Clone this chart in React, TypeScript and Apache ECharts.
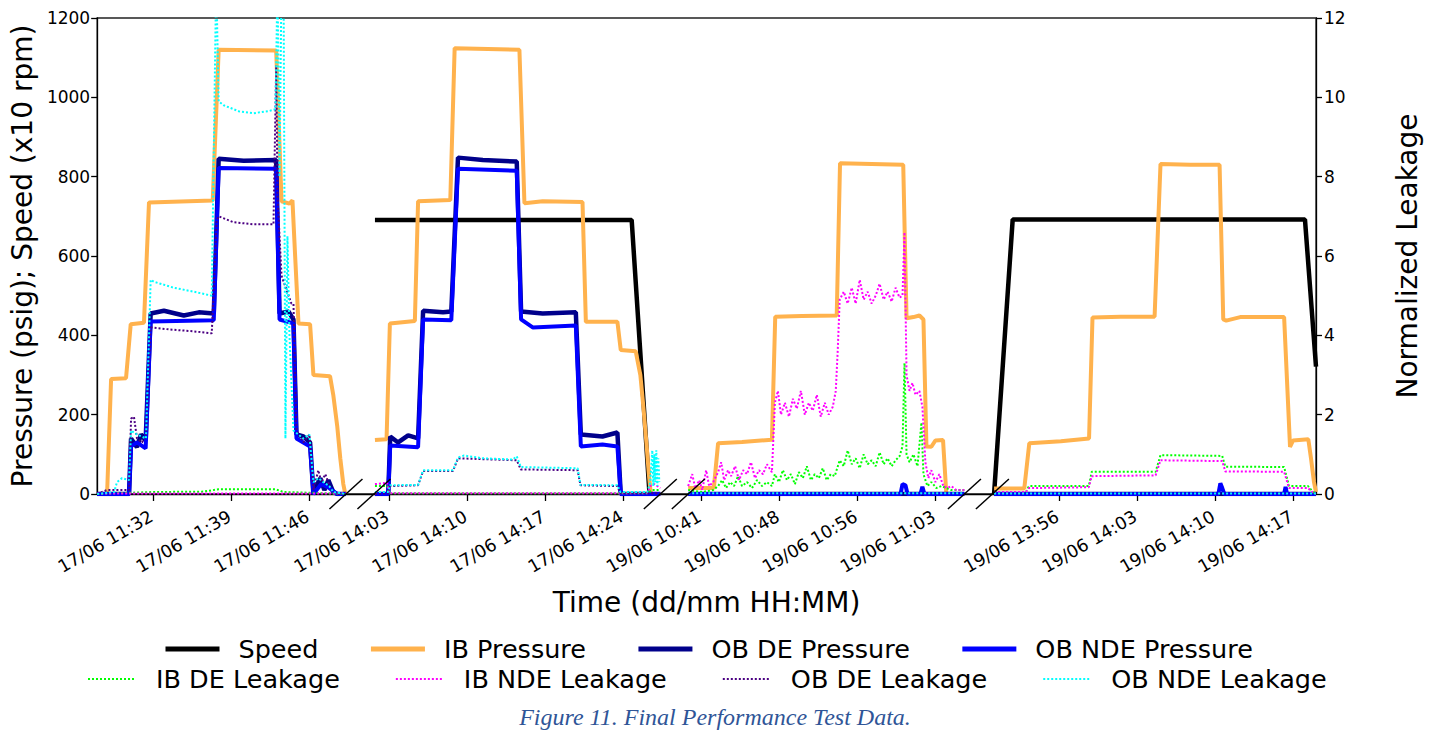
import React, { useEffect, useRef } from 'react';
import * as echarts from 'echarts';

type Pt = [number, number];

// Times are minutes of the day (692 = 11:32). Four recording windows, drawn side by side with broken-axis gaps.
const segments = [
  { t0: 686.97, t1: 709.29, scale: 1 },
  { t0: 841.63, t1: 867.32, scale: 1 },
  { t0: 640.09, t1: 666.04, scale: 7 / 7.333 },
  { t0: 830.01, t1: 859.04, scale: 1 },
];
const GAP = 2.51;

const tickTimes: number[][] = [
  [692, 699, 706],
  [843, 850, 857, 864],
  [641.33, 648.67, 656, 663.33],
  [836, 843, 850, 857],
];
const tickLabels: string[][] = [
  ['17/06 11:32', '17/06 11:39', '17/06 11:46'],
  ['17/06 14:03', '17/06 14:10', '17/06 14:17', '17/06 14:24'],
  ['19/06 10:41', '19/06 10:48', '19/06 10:56', '19/06 11:03'],
  ['19/06 13:56', '19/06 14:03', '19/06 14:10', '19/06 14:17'],
];

// ---- Speed (x10 rpm) ----
const speed: Pt[][] = [
  [],
  [[841.72, 691], [864.75, 691], [866.33, 10], [866.42, 0]],
  [],
  [[830.16, 0], [831.83, 692], [858.05, 692], [859.04, 321]],
];

// ---- IB Pressure (psig) ----
const ibPressure: Pt[][] = [
  [[686.97, 0], [687.86, 0], [688.22, 290], [689.56, 292], [689.98, 428], [691.17, 432], [691.62, 735], [697.34, 740], [697.87, 1120], [703.03, 1118], [703.51, 738], [704.22, 732], [704.49, 740], [704.73, 600], [705.03, 430], [706.07, 428], [706.37, 300], [707.86, 297], [708.15, 250], [708.51, 170], [708.78, 90], [709.05, 25], [709.23, 0]],
  [[841.72, 136], [842.76, 138], [843.06, 430], [845.3, 436], [845.59, 738], [848.48, 741], [848.87, 1124], [854.68, 1120], [855.13, 733], [856.77, 738], [860.34, 736], [860.64, 434], [863.47, 434], [863.77, 363], [865.11, 360], [865.53, 300], [865.8, 220], [866.07, 130], [866.29, 50], [866.45, 5], [866.6, 0], [867.32, 0]],
  [[640.08, 15], [642.49, 15], [642.89, 128], [645.14, 131], [647.95, 137], [648.26, 447], [650.76, 449], [654.04, 450], [654.35, 834], [657.32, 832], [660.29, 830], [660.6, 443], [661.25, 446], [661.81, 450], [662.19, 440], [662.47, 120], [662.93, 119], [663.31, 135], [664.03, 136], [664.34, 0], [666.03, 0]],
  [[830.16, 14], [832.87, 14], [833.32, 128], [836.15, 133], [838.68, 140], [838.99, 445], [841.52, 447], [844.56, 447], [845.09, 832], [847.77, 830], [850.39, 830], [850.72, 440], [850.99, 437], [852.24, 446], [856.18, 446], [856.71, 119], [856.98, 135], [858.35, 138], [858.59, 90], [858.86, 30], [859.04, 5]],
];

// ---- OB DE Pressure (psig) ----
const obDePressure: Pt[][] = [
  [[686.97, 0], [689.83, 0], [690.01, 140], [690.54, 118], [690.9, 150], [691.32, 135], [691.77, 455], [692.96, 462], [694.74, 450], [696.09, 458], [697.43, 455], [697.87, 845], [700.11, 840], [703.03, 842], [703.33, 455], [704.13, 460], [704.58, 440], [704.85, 150], [705.47, 145], [706.07, 130], [706.37, 0], [706.64, 20], [706.99, 40], [707.35, 10], [707.71, 35], [708.15, 5], [708.51, 0], [709.29, 0]],
  [[841.72, 0], [842.91, 0], [843.09, 145], [843.8, 130], [844.7, 148], [845.59, 140], [846.04, 462], [847.83, 458], [848.57, 460], [849.17, 848], [851.4, 842], [854.44, 838], [854.83, 460], [856.77, 455], [859.74, 458], [860.19, 150], [862.13, 145], [863.47, 155], [863.77, 0], [867.32, 0]],
  [[640.08, 0], [666.03, 0]],
  [[830.16, 0], [859.04, 0]],
];

// ---- OB NDE Pressure (psig) ----
const obNdePressure: Pt[][] = [
  [[686.97, 0], [689.83, 0], [690.01, 120], [690.54, 130], [691.32, 115], [691.77, 435], [697.43, 438], [697.87, 822], [703.03, 820], [703.33, 440], [704.58, 430], [704.85, 140], [706.07, 120], [706.37, 0], [707.08, 25], [707.79, 15], [708.51, 0], [709.29, 0]],
  [[841.72, 0], [842.91, 0], [843.09, 122], [845.59, 118], [846.04, 440], [848.57, 438], [849.17, 820], [854.44, 815], [854.83, 440], [855.87, 420], [859.74, 425], [860.19, 120], [862.13, 125], [863.47, 120], [863.77, 0], [867.32, 0]],
  [[640.08, 0], [660.04, 0], [660.22, 25], [660.5, 22], [660.69, 0], [661.91, 0], [662.09, 18], [662.28, 0], [666.03, 0]],
  [[830.16, 0], [850.28, 0], [850.46, 27], [850.63, 15], [850.81, 0], [856.18, 0], [856.31, 18], [856.44, 0], [859.04, 0]],
];

// ---- IB DE Leakage (normalized) ----
const ibDeLeakage: Pt[][] = [
  [[686.97, 0], [688.49, 0.02], [692.06, 0.05], [696.5, 0.06], [697.87, 0.12], [702.97, 0.12], [703.69, 0.05], [706.37, 0.03], [709.29, 0]],
  [[841.72, 0.2], [842.82, 0.2], [843.0, 0.02], [866.16, 0.02], [866.6, 0.1], [867.32, 0.1]],
  [[640.08, 0.1], [641.4, 0.05], [642.43, 0.1], [642.89, 0.2], [643.27, 0.35], [643.64, 0.15], [644.02, 0.3], [644.39, 0.2], [644.77, 0.45], [645.14, 0.2], [645.61, 0.3], [646.08, 0.15], [646.55, 0.35], [647.02, 0.2], [647.48, 0.3], [647.95, 0.2], [648.23, 0.5], [648.61, 0.3], [648.98, 0.6], [649.36, 0.35], [649.73, 0.5], [650.11, 0.25], [650.48, 0.55], [650.86, 0.4], [651.23, 0.7], [651.61, 0.35], [651.98, 0.5], [652.36, 0.4], [652.73, 0.65], [653.1, 0.35], [653.48, 0.5], [653.85, 0.45], [654.32, 0.85], [654.7, 0.7], [655.07, 1.1], [655.45, 0.75], [655.82, 0.9], [656.2, 0.65], [656.57, 1.0], [656.95, 0.75], [657.32, 0.85], [657.7, 0.7], [658.07, 1.05], [658.45, 0.75], [658.82, 0.9], [659.2, 0.7], [659.57, 0.85], [659.94, 0.95], [660.22, 1.2], [660.41, 3.3], [660.6, 1.0], [660.88, 0.8], [661.25, 1.0], [661.63, 0.7], [662.0, 1.8], [662.19, 0.5], [662.56, 0.2], [662.93, 0.3], [663.4, 0.15], [663.87, 0.2], [664.81, 0.1], [666.03, 0.1]],
  [[830.16, 0.05], [833.02, 0.05], [833.29, 0.2], [838.66, 0.2], [838.92, 0.56], [844.65, 0.56], [845.09, 0.98], [850.63, 0.96], [850.9, 0.69], [856.18, 0.68], [856.62, 0.2], [858.32, 0.2], [858.77, 0.05], [859.04, 0]],
];

// ---- IB NDE Leakage (normalized) ----
const ibNdeLeakage: Pt[][] = [
  [[686.97, 0.01], [709.29, 0.01]],
  [[841.72, 0.25], [842.82, 0.28], [843.0, 0.02], [866.16, 0.02], [866.42, 0.2], [866.78, 0.25], [867.32, 0.15]],
  [[640.08, 0.2], [640.46, 0.5], [640.74, 0.15], [641.12, 0.35], [641.4, 0.1], [641.77, 0.6], [642.05, 0.2], [642.43, 0.3], [642.89, 0.55], [643.18, 0.8], [643.46, 0.35], [643.83, 0.6], [644.11, 0.45], [644.49, 0.7], [644.86, 0.35], [645.24, 0.6], [645.61, 0.5], [645.98, 0.8], [646.36, 0.4], [646.73, 0.6], [647.11, 0.5], [647.48, 0.75], [647.95, 0.55], [648.23, 2.3], [648.51, 2.6], [648.8, 2.0], [649.17, 2.3], [649.55, 1.95], [649.92, 2.4], [650.29, 2.15], [650.67, 2.6], [651.04, 2.0], [651.42, 2.3], [651.79, 2.1], [652.17, 2.5], [652.54, 1.95], [652.92, 2.3], [653.29, 2.0], [653.67, 2.2], [653.95, 2.6], [654.13, 3.6], [654.32, 4.9], [654.7, 5.1], [655.07, 4.8], [655.45, 5.2], [655.82, 4.8], [656.2, 5.4], [656.57, 4.9], [656.95, 5.1], [657.32, 4.8], [657.7, 5.0], [658.07, 5.3], [658.45, 4.9], [658.82, 5.1], [659.2, 4.85], [659.57, 5.2], [659.94, 4.95], [660.22, 5.0], [660.41, 6.6], [660.6, 3.0], [660.88, 2.6], [661.16, 2.8], [661.44, 2.5], [661.81, 2.6], [662.09, 2.2], [662.37, 0.8], [662.65, 0.4], [662.93, 0.6], [663.31, 0.3], [663.68, 0.5], [664.06, 0.2], [664.43, 0.15], [664.81, 0.2], [665.28, 0.1], [666.03, 0.1]],
  [[830.16, 0.05], [833.02, 0.05], [833.29, 0.15], [838.66, 0.17], [838.92, 0.45], [844.65, 0.47], [845.09, 0.85], [850.63, 0.83], [850.9, 0.57], [856.18, 0.56], [856.62, 0.15], [858.32, 0.15], [858.77, 0.03], [859.04, 0]],
];

// ---- OB DE Leakage (normalized) ----
const obDeLeakage: Pt[][] = [
  [[686.97, 0], [687.86, 0.1], [689.83, 0.1], [690.01, 1.9], [690.27, 1.95], [690.54, 1.4], [690.99, 1.3], [691.35, 1.5], [691.77, 4.2], [693.4, 4.15], [695.64, 4.1], [697.25, 4.05], [697.69, 6.9], [697.87, 7.0], [699.21, 6.85], [701.0, 6.8], [702.79, 6.8], [703.03, 10.8], [703.15, 7.5], [703.51, 5.5], [704.4, 4.8], [704.58, 4.8], [704.85, 1.6], [705.47, 1.3], [706.01, 1.5], [706.37, 0.1], [706.81, 0.6], [707.08, 0.3], [707.44, 0.5], [707.97, 0.1], [708.51, 0], [709.29, 0]],
  [[841.72, 0], [842.91, 0.02], [843.06, 0.2], [845.59, 0.22], [846.04, 0.58], [848.72, 0.58], [849.17, 0.9], [854.44, 0.85], [854.8, 0.62], [859.9, 0.6], [860.16, 0.22], [863.47, 0.2], [863.74, 0.02], [867.32, 0.02]],
  [[640.08, 0.02], [666.03, 0.02]],
  [[830.16, 0.01], [859.04, 0.01]],
];

// ---- OB NDE Leakage (normalized) ----
const obNdeLeakage: Pt[][] = [
  [[686.97, 0], [688.49, 0.05], [688.75, 0.3], [689.2, 0.4], [689.83, 0.35], [690.01, 1.6], [690.54, 1.5], [691.35, 1.4], [691.77, 5.4], [692.06, 5.35], [693.85, 5.2], [695.64, 5.1], [697.25, 5.0], [697.65, 13], [697.87, 9.9], [698.32, 9.8], [699.66, 9.65], [701.0, 9.6], [702.34, 9.65], [702.97, 9.7], [703.15, 13], [703.33, 8], [703.51, 13], [703.69, 13], [703.86, 1.4], [704.04, 6.5], [704.22, 4], [704.58, 1.6], [705.03, 1.5], [705.47, 1.4], [706.01, 1.5], [706.37, 0.3], [706.81, 0.4], [707.26, 0.3], [707.79, 0.2], [708.15, 0.05], [709.29, 0]],
  [[841.72, 0.05], [842.91, 0.05], [843.06, 0.22], [845.59, 0.23], [846.04, 0.6], [848.72, 0.6], [849.17, 0.92], [849.71, 0.97], [851.4, 0.9], [854.09, 0.87], [854.44, 0.95], [854.8, 0.68], [859.9, 0.65], [860.16, 0.23], [863.47, 0.22], [863.74, 0.05], [866.16, 0.05], [866.42, 0.3], [866.6, 1.1], [866.69, 0.2], [866.78, 1.0], [866.87, 0.3], [866.96, 1.1], [867.05, 0.2], [867.14, 0.9], [867.23, 0.3]],
  [[640.08, 0.02], [666.03, 0.02]],
  [[830.16, 0.01], [859.04, 0.01]],
];

const FONT = 'DejaVu Sans';

const v0s: number[] = [];
const widths: number[] = [];
(() => {
  let acc = 0;
  segments.forEach((s) => {
    v0s.push(acc);
    const w = (s.t1 - s.t0) * s.scale;
    widths.push(w);
    acc += w + GAP;
  });
})();
const xMax = v0s[3] + widths[3];
const toV = (i: number, t: number) => v0s[i] + (t - segments[i].t0) * segments[i].scale;

const build = (segs: Pt[][]) => {
  const out: any[] = [];
  segs.forEach((pts, i) => {
    if (!pts.length) return;
    if (out.length) out.push([v0s[i] - GAP / 2, '-']);
    pts.forEach((p) => out.push([toV(i, p[0]), p[1]]));
  });
  return out;
};

const tickVals: number[] = [];
const tickText: string[] = [];
tickTimes.forEach((arr, i) => arr.forEach((t, j) => { tickVals.push(toV(i, t)); tickText.push(tickLabels[i][j]); }));

export default function App() {
  const ref = useRef<HTMLDivElement>(null);
  useEffect(() => {
    const chart = echarts.init(ref.current!, null, { renderer: 'svg' });
    const solid = (name: string, data: Pt[][], color: string, width: number) => ({
      name, type: 'line', data: build(data), yAxisIndex: 0, symbol: 'none', showSymbol: false,
      connectNulls: false, clip: true, lineStyle: { color, width }, itemStyle: { color },
    });
    const dotted = (name: string, data: Pt[][], color: string) => ({
      name, type: 'line', data: build(data), yAxisIndex: 1, symbol: 'none', showSymbol: false,
      connectNulls: false, clip: true, lineStyle: { color, width: 2, type: 'dotted' }, itemStyle: { color },
    });
    const axisLineStyle = { color: '#000', width: 1.3 };
    const legendText = { fontSize: 25.5, fontFamily: FONT, color: '#000', padding: [0, 0, 0, 14] };
    const option: any = {
      animation: false,
      grid: { left: 93, right: 121, top: 18, bottom: 236, show: true, borderColor: '#222', borderWidth: 1.3, containLabel: false },
      xAxis: {
        type: 'value', min: 0, max: xMax,
        name: 'Time (dd/mm HH:MM)', nameLocation: 'middle', nameGap: 94,
        nameTextStyle: { fontSize: 28, fontFamily: FONT, color: '#000' },
        axisLine: { show: true, lineStyle: axisLineStyle },
        axisTick: { show: true, customValues: tickVals, length: 7, lineStyle: axisLineStyle },
        axisLabel: {
          customValues: tickVals, rotate: 30, fontSize: 17.5, fontFamily: FONT, color: '#000', margin: 20,
          padding: [0, 2, 0, 0],
          formatter: (val: number) => {
            let best = 0, bd = Infinity;
            tickVals.forEach((tv, k) => { const d = Math.abs(tv - val); if (d < bd) { bd = d; best = k; } });
            return tickText[best];
          },
        },
        splitLine: { show: false },
      },
      yAxis: [
        {
          type: 'value', min: 0, max: 1200, interval: 200, position: 'left',
          name: 'Pressure (psig); Speed (x10 rpm)', nameLocation: 'middle', nameGap: 53, nameRotate: 90,
          nameTextStyle: { fontSize: 28, fontFamily: FONT, color: '#000' },
          axisLine: { show: true, lineStyle: axisLineStyle },
          axisTick: { show: true, length: 6, lineStyle: axisLineStyle },
          axisLabel: { fontSize: 17, fontFamily: FONT, color: '#000', margin: 7, formatter: (v: number) => String(v) },
          splitLine: { show: false },
        },
        {
          type: 'value', min: 0, max: 12, interval: 2, position: 'right',
          name: 'Normalized Leakage', nameLocation: 'middle', nameGap: 77, nameRotate: 90,
          nameTextStyle: { fontSize: 28, fontFamily: FONT, color: '#000' },
          axisLine: { show: true, lineStyle: axisLineStyle },
          axisTick: { show: true, length: 6, lineStyle: axisLineStyle },
          axisLabel: { fontSize: 17, fontFamily: FONT, color: '#000', margin: 8, formatter: (v: number) => String(v) },
          splitLine: { show: false },
        },
      ],
      legend: [
        {
          data: ['Speed', 'IB Pressure', 'OB DE Pressure', 'OB NDE Pressure'],
          left: 158, top: 631, itemWidth: 54, itemHeight: 14, itemGap: 50, selectedMode: false,
          itemStyle: { opacity: 0 }, lineStyle: { width: 5 }, textStyle: legendText,
        },
        {
          data: ['IB DE Leakage', 'IB NDE Leakage', 'OB DE Leakage', 'OB NDE Leakage'],
          left: 82, top: 661, itemWidth: 47, itemHeight: 14, itemGap: 55, selectedMode: false,
          itemStyle: { opacity: 0 }, textStyle: { ...legendText, padding: [0, 0, 0, 16] },
        },
      ],
      series: [
        solid('Speed', speed, '#000000', 4.5),
        solid('IB Pressure', ibPressure, '#FFB24D', 4),
        solid('OB DE Pressure', obDePressure, '#00008B', 4.5),
        solid('OB NDE Pressure', obNdePressure, '#0000FF', 4),
        dotted('IB DE Leakage', ibDeLeakage, '#00FF00'),
        dotted('IB NDE Leakage', ibNdeLeakage, '#FF00FF'),
        dotted('OB DE Leakage', obDeLeakage, '#4B0082'),
        dotted('OB NDE Leakage', obNdeLeakage, '#00FFFF'),
      ],
    };
    chart.setOption(option);

    const graphics: any[] = [];
    for (let i = 0; i < 3; i++) {
      [v0s[i] + widths[i], v0s[i + 1]].forEach((v) => {
        const p = chart.convertToPixel({ gridIndex: 0 } as any, [v, 0]) as number[];
        graphics.push({
          type: 'line', silent: true, z: 100,
          shape: { x1: p[0] - 16.5, y1: p[1] + 15, x2: p[0] + 16.5, y2: p[1] - 15 },
          style: { stroke: '#000', lineWidth: 1.5 },
        });
      });
    }
    graphics.push({
      type: 'text', x: 715, y: 717, silent: true,
      style: {
        text: 'Figure 11. Final Performance Test Data.', fontSize: 24, fontStyle: 'italic',
        fontFamily: 'Liberation Serif', fill: '#2F5597', align: 'center', verticalAlign: 'middle',
      },
    });
    chart.setOption({ graphic: graphics });
    return () => chart.dispose();
  }, []);
  return <div ref={ref} style={{ position: 'fixed', left: 0, top: 0, width: 1437, height: 730, background: '#fff' }} />;
}
